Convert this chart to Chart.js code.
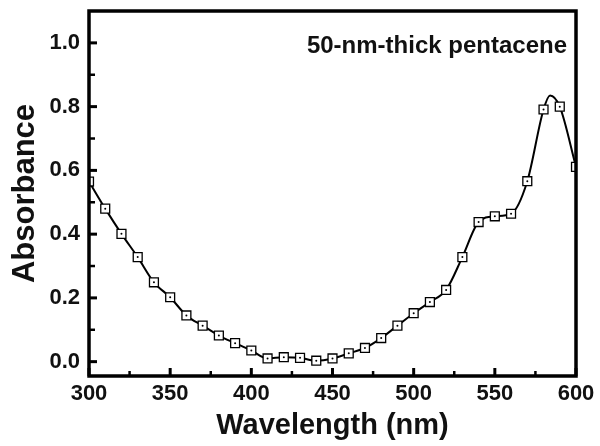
<!DOCTYPE html>
<html>
<head>
<meta charset="utf-8">
<script src="https://cdn.jsdelivr.net/npm/chart.js@4.4.1/dist/chart.umd.min.js"></script>
<style>
  html, body { margin: 0; padding: 0; background: #fff; }
  #wrap { width: 600px; height: 446px; }
</style>
</head>
<body>
<div id="wrap"><canvas id="spectrum"></canvas></div>
<script>
    // sampled points (every 10 nm), these get the open square markers
    const markerNm  = [300,310,320,330,340,350,360,370,380,390,400,410,420,430,440,450,
                       460,470,480,490,500,510,520,530,540,550,560,570,580,590,600];
    const markerAbs = [0.565,0.480,0.401,0.328,0.249,0.202,0.145,0.113,0.082,0.058,0.035,0.010,0.014,0.012,0.003,0.010,
                       0.026,0.043,0.074,0.113,0.152,0.187,0.225,0.328,0.438,0.456,0.464,0.566,0.791,0.800,0.611];

    // the peak between the markers, read separately so the curve reaches it
    const peakNm  = [584];
    const peakAbs = [0.835];

    const xTicks = [300,350,400,450,500,550,600];
    const yTicks = [0.0,0.2,0.4,0.6,0.8,1.0];

    const FONT = "'Liberation Sans', Arial, sans-serif";

    // full curve = markers + peak, sorted by wavelength
    const curve = markerNm.map((x, i) => ({x: x, y: markerAbs[i]}))
        .concat(peakNm.map((x, i) => ({x: x, y: peakAbs[i]})))
        .sort((a, b) => a.x - b.x);
    const markers = markerNm.map((x, i) => ({x: x, y: markerAbs[i]}));

    // frame, inward ticks and the sample label
    const framePlugin = {
        id: 'frame',
        afterDatasetsDraw(chart) {
            const {ctx, chartArea: a, scales: {x, y}} = chart;
            ctx.save();
            ctx.strokeStyle = '#000';
            ctx.lineCap = 'butt';

            // bottom ticks: majors every 50, minors every 25
            for (let v = 300; v <= 600; v += 25) {
                const px = x.getPixelForValue(v);
                const major = v % 50 === 0;
                ctx.lineWidth = major ? 3 : 2.5;
                ctx.beginPath();
                ctx.moveTo(px, a.bottom);
                ctx.lineTo(px, a.bottom - (major ? 8 : 5));
                ctx.stroke();
            }
            // left ticks: majors every 0.2, minors every 0.1
            for (let k = 0; k <= 10; k++) {
                const py = y.getPixelForValue(k / 10);
                const major = k % 2 === 0;
                ctx.lineWidth = major ? 3 : 2.5;
                ctx.beginPath();
                ctx.moveTo(a.left, py);
                ctx.lineTo(a.left + (major ? 8 : 6), py);
                ctx.stroke();
            }

            ctx.lineWidth = 3.5;
            ctx.strokeRect(a.left, a.top, a.right - a.left, a.bottom - a.top);

            ctx.fillStyle = '#111';
            ctx.font = 'bold 24px ' + FONT;
            ctx.textAlign = 'right';
            ctx.textBaseline = 'middle';
            ctx.fillText('50-nm-thick pentacene', a.right - 9, a.top + 35);
            ctx.restore();
        }
    };

    new Chart("spectrum", {
        type: "scatter",
        data: {
            datasets: [
                {   // small dot in each marker
                    data: markers,
                    pointRadius: 1,
                    pointBackgroundColor: '#000',
                    pointBorderWidth: 0,
                    showLine: false
                },
                {   // open squares
                    data: markers,
                    pointStyle: 'rect',
                    pointRadius: 6.3,
                    pointBackgroundColor: '#fff',
                    pointBorderColor: '#000',
                    pointBorderWidth: 1.3,
                    showLine: false
                },
                {   // absorbance curve
                    data: curve,
                    showLine: true,
                    borderColor: '#000',
                    borderWidth: 2,
                    cubicInterpolationMode: 'monotone',
                    pointRadius: 0
                }
            ]
        },
        options: {
            responsive: true,
            maintainAspectRatio: false,
            animation: false,
            layout: { padding: { top: 11, right: 24, left: 0, bottom: 0 } },
            plugins: {
                legend: { display: false },
                tooltip: { enabled: false }
            },
            scales: {
                x: {
                    type: 'linear',
                    min: 300,
                    max: 600,
                    grid: { display: false, drawTicks: false },
                    border: { display: false },
                    afterBuildTicks: s => { s.ticks = xTicks.map(v => ({value: v})); },
                    afterFit: s => { s.height = 70; s.paddingLeft = 0; s.paddingRight = 0; },
                    ticks: {
                        padding: 5,
                        color: '#111',
                        font: { family: FONT, size: 22, weight: 'bold' }
                    },
                    title: {
                        display: true,
                        text: 'Wavelength (nm)',
                        color: '#111',
                        padding: { top: 0, bottom: 3 },
                        font: { family: FONT, size: 29, weight: 'bold' }
                    }
                },
                y: {
                    min: -0.045,
                    max: 1.1,
                    grid: { display: false, drawTicks: false },
                    border: { display: false },
                    afterBuildTicks: s => { s.ticks = yTicks.map(v => ({value: v})); },
                    afterFit: s => { s.width = 89; s.paddingTop = 0; s.paddingBottom = 0; },
                    ticks: {
                        padding: 9,
                        color: '#111',
                        font: { family: FONT, size: 22, weight: 'bold' },
                        callback: v => v.toFixed(1)
                    },
                    title: {
                        display: true,
                        text: 'Absorbance',
                        color: '#111',
                        padding: { top: 7, bottom: 0 },
                        font: { family: FONT, size: 31, weight: 'bold' }
                    }
                }
            }
        },
        plugins: [framePlugin]
    });
</script>
</body>
</html>
